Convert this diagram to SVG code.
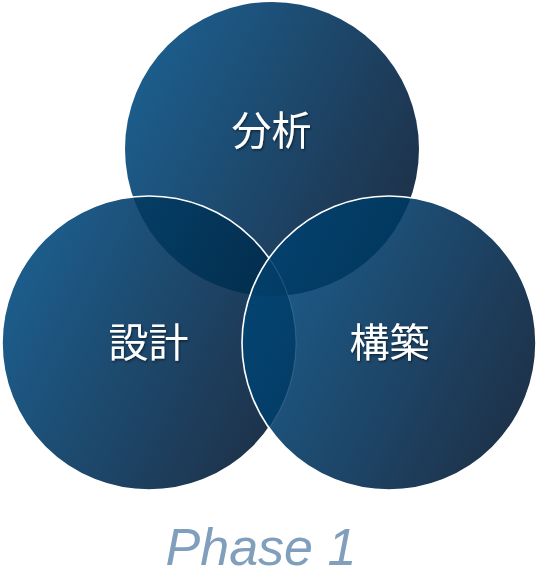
<svg xmlns="http://www.w3.org/2000/svg" width="538" height="583" viewBox="0 0 538 583">
  <defs>
    <linearGradient id="gBase" x1="0" y1="0.25" x2="1" y2="0.75">
      <stop offset="0" stop-color="#1c5f8f"/>
      <stop offset="1" stop-color="#1e3047"/>
    </linearGradient>
    <linearGradient id="gTL" x1="0" y1="0.25" x2="1" y2="0.75">
      <stop offset="0" stop-color="#074470"/>
      <stop offset="1" stop-color="#00233d"/>
    </linearGradient>
    <linearGradient id="gTR" x1="0" y1="0.25" x2="1" y2="0.75">
      <stop offset="0" stop-color="#055186"/>
      <stop offset="1" stop-color="#02375d"/>
    </linearGradient>
    <linearGradient id="gLR" x1="0" y1="0.25" x2="1" y2="0.75">
      <stop offset="0" stop-color="#06508a"/>
      <stop offset="1" stop-color="#033d66"/>
    </linearGradient>
    <clipPath id="cTop"><circle cx="272" cy="149" r="147"/></clipPath>
    <clipPath id="cLeft"><circle cx="149" cy="343" r="147"/></clipPath>
    <clipPath id="cRight"><circle cx="389" cy="343" r="147"/></clipPath>
    <filter id="shadow" x="-20%" y="-20%" width="140%" height="140%">
      <feDropShadow dx="1" dy="1.5" stdDeviation="1" flood-color="#000" flood-opacity="0.5"/>
    </filter>
  </defs>
  <style>
    .base { fill: url(#gBase); }
    .edge { fill: none; stroke: #ffffff; stroke-width: 1.6; }
    .faint { fill: none; stroke: #ffffff; stroke-width: 1.2; stroke-opacity: 0.12; }
    .lbl { font-family: "Noto Sans CJK JP", "Noto Sans CJK SC", sans-serif; font-size: 40px; fill: #ffffff; text-anchor: middle; filter: url(#shadow); }
    .title { font-family: "Liberation Sans", Arial, sans-serif; font-style: italic; font-size: 52px; fill: #7f9fbd; text-anchor: middle; }
  </style>

  <g id="node-top">
    <circle class="base" cx="272" cy="149" r="147"/>
  </g>

  <g id="node-left">
    <circle class="base" cx="149" cy="343" r="147"/>
    <g clip-path="url(#cLeft)">
      <circle cx="272" cy="149" r="147" fill="url(#gTL)"/>
    </g>
    <circle class="edge" cx="149" cy="343" r="147"/>
  </g>

  <g id="node-right">
    <circle class="base" cx="389" cy="343" r="147"/>
    <g clip-path="url(#cRight)">
      <circle cx="272" cy="149" r="147" fill="url(#gTR)"/>
      <circle cx="149" cy="343" r="147" fill="url(#gLR)"/>
      <g clip-path="url(#cTop)">
        <circle cx="149" cy="343" r="147" fill="url(#gTR)"/>
      </g>
      <circle class="faint" cx="149" cy="343" r="147"/>
    </g>
    <circle class="edge" cx="389" cy="343" r="147"/>
  </g>

  <g id="labels">
    <text class="lbl" x="271.5" y="145">分析</text>
    <text class="lbl" x="148.5" y="357">設計</text>
    <text class="lbl" x="389.5" y="357">構築</text>
  </g>

  <g id="connectors"></g>

  <text class="title" x="261" y="565">Phase 1</text>
</svg>
